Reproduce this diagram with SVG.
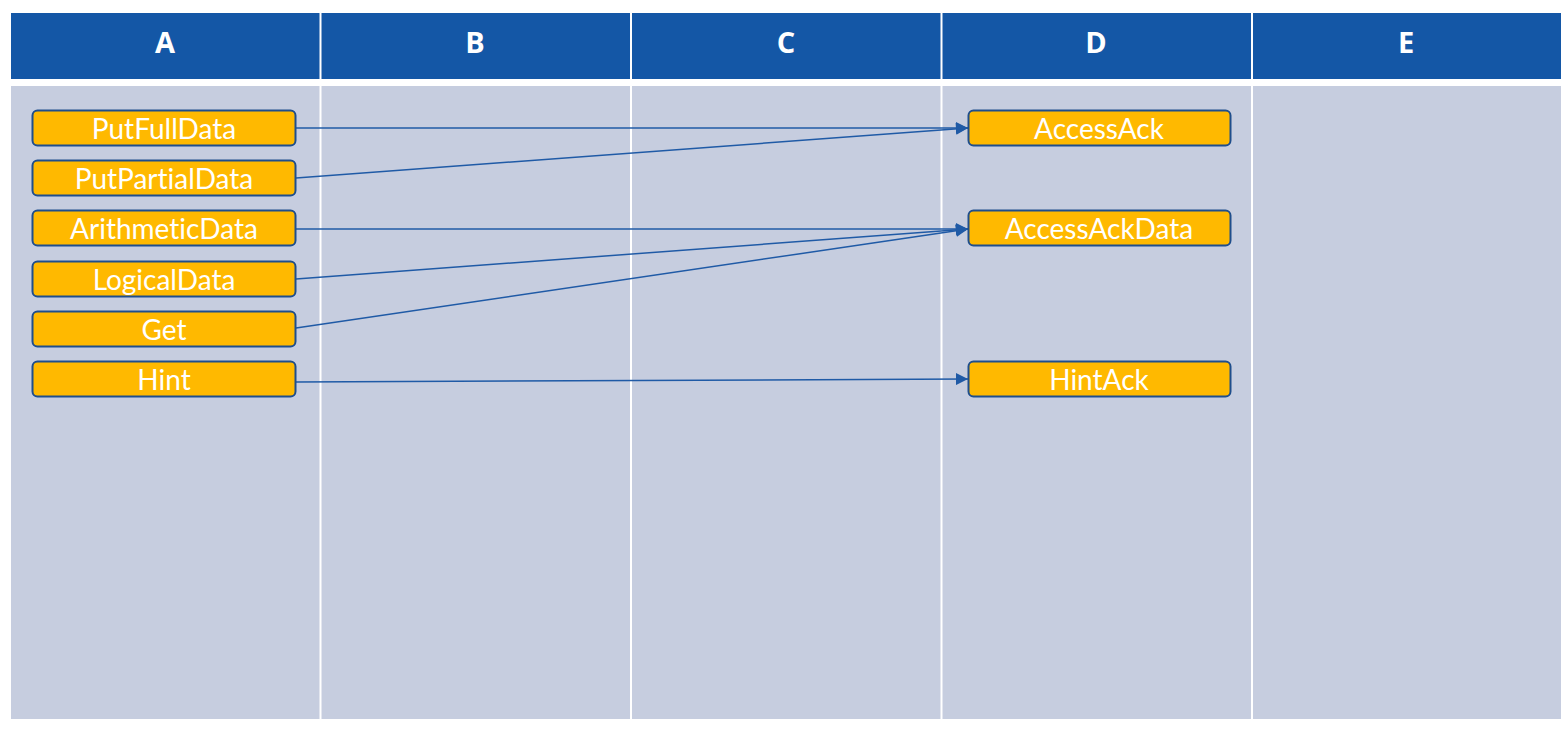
<svg xmlns="http://www.w3.org/2000/svg" width="1568" height="734" viewBox="0 0 1568 734">
<style>
.hdr{fill:#1457A6}
.body{fill:#C6CDDF}
.sep{stroke:#FFFFFF;stroke-width:2}
.ht{font-family:"Open Sans","Liberation Sans",sans-serif;font-weight:bold;font-size:29px;fill:#FFFFFF;text-anchor:middle}
.nd{fill:#FFB900;stroke:#1F4E8C;stroke-width:2}
.nt{font-family:Lato,"Open Sans",sans-serif;font-size:28px;fill:#FFFFFF;text-anchor:middle;font-variant-ligatures:none}
.cn{stroke:#1F5AA6;stroke-width:1.5;fill:none;marker-end:url(#ah)}
</style>
<defs>
<marker id="ah" viewBox="0 0 10 10" refX="10" refY="5" markerWidth="13" markerHeight="12" markerUnits="userSpaceOnUse" orient="auto">
<path d="M0,0 L10,5 L0,10 z" fill="#1F5AA6"/>
</marker>
</defs>
<rect width="1568" height="734" fill="#FFFFFF"/>
<g id="lanes">
<rect class="hdr" x="11" y="13" width="1550" height="66"/>
<rect class="body" x="11" y="86" width="1550" height="633"/>
<line class="sep" x1="320.5" y1="13" x2="320.5" y2="719"/>
<line class="sep" x1="631" y1="13" x2="631" y2="719"/>
<line class="sep" x1="941.5" y1="13" x2="941.5" y2="719"/>
<line class="sep" x1="1252" y1="13" x2="1252" y2="719"/>
<text class="ht" x="165" y="53">A</text>
<text class="ht" x="475" y="53">B</text>
<text class="ht" x="786" y="53">C</text>
<text class="ht" x="1096" y="53">D</text>
<text class="ht" x="1406" y="53">E</text>
</g>
<g id="connectors">
<line class="cn" x1="296" y1="128" x2="968" y2="128"/>
<line class="cn" x1="296" y1="178" x2="968" y2="128"/>
<line class="cn" x1="296" y1="229" x2="968" y2="229"/>
<line class="cn" x1="296" y1="279" x2="968" y2="229"/>
<line class="cn" x1="296" y1="328" x2="968" y2="229"/>
<line class="cn" x1="296" y1="382" x2="968" y2="379"/>
</g>
<g id="PutFullData"><rect class="nd" x="32.5" y="110.5" width="263" height="35" rx="5"/><text class="nt" x="164" y="139">PutFullData</text></g>
<g id="PutPartialData"><rect class="nd" x="32.5" y="160.5" width="263" height="35" rx="5"/><text class="nt" x="164" y="189">PutPartialData</text></g>
<g id="ArithmeticData"><rect class="nd" x="32.5" y="210.5" width="263" height="35" rx="5"/><text class="nt" x="164" y="239">ArithmeticData</text></g>
<g id="LogicalData"><rect class="nd" x="32.5" y="261.5" width="263" height="35" rx="5"/><text class="nt" x="164" y="290">LogicalData</text></g>
<g id="Get"><rect class="nd" x="32.5" y="311.5" width="263" height="35" rx="5"/><text class="nt" x="164" y="340">Get</text></g>
<g id="Hint"><rect class="nd" x="32.5" y="361.5" width="263" height="35" rx="5"/><text class="nt" x="164" y="390">Hint</text></g>
<g id="AccessAck"><rect class="nd" x="968.5" y="110.5" width="262" height="35" rx="5"/><text class="nt" x="1099" y="139">AccessAck</text></g>
<g id="AccessAckData"><rect class="nd" x="968.5" y="210.5" width="262" height="35" rx="5"/><text class="nt" x="1099" y="239">AccessAckData</text></g>
<g id="HintAck"><rect class="nd" x="968.5" y="361.5" width="262" height="35" rx="5"/><text class="nt" x="1099" y="390">HintAck</text></g>
</svg>
